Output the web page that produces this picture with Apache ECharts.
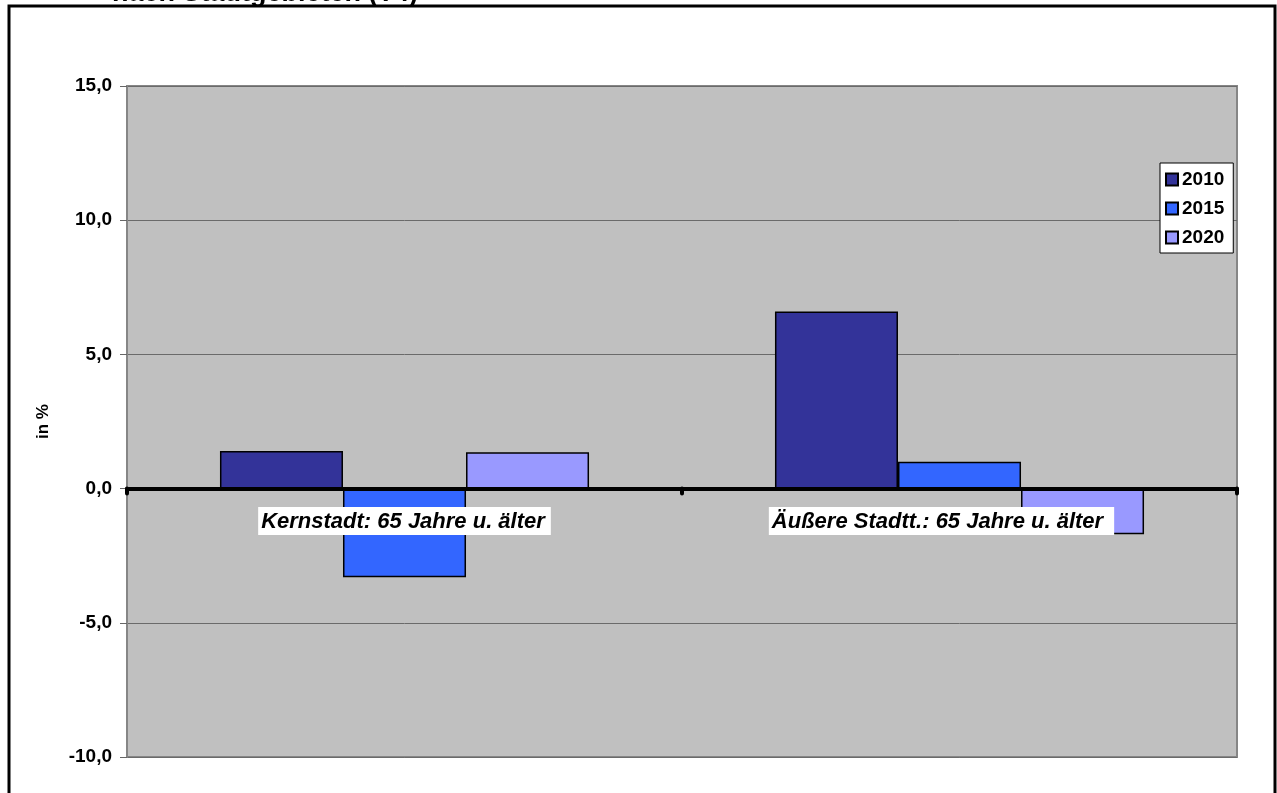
<!DOCTYPE html>
<html>
<head>
<meta charset="utf-8">
<script src="https://cdn.jsdelivr.net/npm/echarts@6/dist/echarts.min.js"></script>
<style>
  html, body { margin: 0; padding: 0; background: #fff; }
  #chart { width: 1277px; height: 793px; }
</style>
</head>
<body>
<div id="chart"></div>
<script>
// Veränderung der Bevölkerung 65 Jahre u. älter nach Stadtgebieten
const categories = ['Kernstadt: 65 Jahre u. älter', 'Äußere Stadtt.: 65 Jahre u. älter'];
const years = ['2010', '2015', '2020'];
const values2010 = [1.4, 6.6];
const values2015 = [-3.3, 1.0];
const values2020 = [1.35, -1.7];
const baseline = [0, 0];
const yTicks = { min: -10, max: 15, step: 5 };

const colors = ['#333399', '#3366FF', '#9999FF'];
const seriesValues = [values2010, values2015, values2020];

const chart = echarts.init(document.getElementById('chart'));
const font = 'Arial, "Liberation Sans", sans-serif';

const barSeries = years.map((y, i) => ({
  name: y,
  type: 'bar',
  data: seriesValues[i],
  barGap: '0%',
  barCategoryGap: '33.5%',
  z: 2,
  itemStyle: { color: colors[i], borderColor: '#000', borderWidth: 1.5 }
}));

// category names sit just below the zero line, on white boxes
const labelSeries = {
  name: 'labels',
  type: 'scatter',
  data: baseline,
  symbolSize: 0,
  silent: true,
  z: 6,
  itemStyle: { opacity: 1 },
  label: {
    show: true,
    position: 'bottom',
    distance: 21,
    opacity: 1,
    formatter: p => p.dataIndex === 0 ? '{a|' + p.name + '}' : '{b|' + p.name + '}{gap|}',
    rich: {
      a: {
        fontSize: 22, fontWeight: 'bold', fontStyle: 'italic', color: '#000', fontFamily: font,
        backgroundColor: '#fff', padding: [4, 6, 2, 3], lineHeight: 23
      },
      b: {
        fontSize: 22, fontWeight: 'bold', fontStyle: 'italic', color: '#000', fontFamily: font,
        backgroundColor: '#fff', padding: [4, 11, 2, 3], lineHeight: 23
      },
      gap: { width: 36 }
    }
  }
};

chart.setOption({
  animation: false,
  textStyle: { fontFamily: font },
  graphic: [
    {
      type: 'rect',
      shape: { x: 9, y: 6, width: 1266, height: 820 },
      style: { fill: 'none', stroke: '#000', lineWidth: 3 },
      z: 100
    },
    {
      type: 'text',
      x: 112,
      y: 7,
      z: 99,
      style: {
        text: 'nach Stadtgebieten (T4)',
        font: 'bold 27px Arial, "Liberation Sans", sans-serif',
        fill: '#000',
        verticalAlign: 'bottom'
      }
    },
    {
      type: 'rect',
      shape: { x: 0, y: 7, width: 1277, height: 20 },
      style: { fill: '#fff' },
      z: 99.5
    }
  ],
  grid: {
    left: 127, right: 40, top: 86, bottom: 36,
    containLabel: false,
    outerBoundsMode: 'none',
    show: true,
    backgroundColor: '#C0C0C0',
    borderColor: '#868686',
    borderWidth: 2
  },
  legend: {
    orient: 'vertical',
    left: 1160,
    top: 163,
    data: years,
    backgroundColor: '#fff',
    borderColor: '#000',
    borderWidth: 1,
    padding: [7, 9, 6, 5],
    itemGap: 10,
    itemWidth: 12,
    itemHeight: 12,
    icon: 'rect',
    textStyle: { fontWeight: 'bold', fontSize: 19, color: '#000', padding: [0, 0, 0, -1] }
  },
  xAxis: {
    type: 'category',
    data: categories,
    z: 5,
    axisLine: { onZero: true, lineStyle: { color: '#000', width: 4 } },
    axisTick: { show: true, length: 5, alignWithLabel: false, lineStyle: { color: '#000', width: 4, cap: 'round' } },
    axisLabel: { show: false },
    splitLine: { show: false }
  },
  yAxis: {
    type: 'value',
    min: yTicks.min,
    max: yTicks.max,
    interval: yTicks.step,
    name: 'in %',
    nameLocation: 'middle',
    nameGap: 75,
    nameRotate: 90,
    nameTextStyle: { fontWeight: 'bold', fontSize: 17, color: '#000' },
    axisLine: { show: true, lineStyle: { color: '#868686', width: 2 } },
    axisTick: { show: true, length: 7, lineStyle: { color: '#666', width: 1 } },
    axisLabel: {
      fontWeight: 'bold', fontSize: 19, color: '#000', margin: 15,
      formatter: v => v.toFixed(1).replace('.', ',')
    },
    splitLine: { show: true, lineStyle: { color: '#6a6a6a', width: 1 } }
  },
  series: barSeries.concat([labelSeries])
});
</script>
</body>
</html>
